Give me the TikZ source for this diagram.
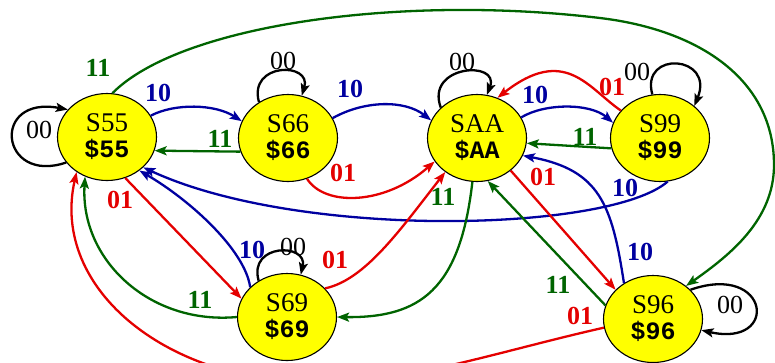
\documentclass[tikz,border=0pt]{standalone}
\usepackage{fontspec}
\setmainfont{Liberation Serif}
\newfontfamily\monofam{Liberation Mono}
\usetikzlibrary{shapes.geometric,arrows.meta}

\definecolor{cred}{RGB}{228,0,0}
\definecolor{cblue}{RGB}{0,0,160}
\definecolor{cgreen}{RGB}{0,100,0}
\definecolor{cyel}{RGB}{255,255,0}

\newcommand{\stname}[2]{#1\\{\monofam\bfseries\fontsize{25}{26}\selectfont #2}}

\tikzset{
  state/.style={ellipse, draw=black, line width=1.1pt, fill=cyel,
    minimum width=99pt, minimum height=87pt, inner sep=0pt, align=center,
    node font=\fontsize{27}{26}\selectfont},
  edge/.style={line width=2.3pt, -{Stealth[length=12pt,width=9pt,inset=2.5pt]}},
  lbl/.style={font=\fontsize{26}{26}\selectfont\bfseries, inner sep=0pt},
  selflbl/.style={font=\fontsize{26}{26}\selectfont, inner sep=0pt},
}

\begin{document}
\begin{tikzpicture}[x=1pt,y=-1pt]
\useasboundingbox (0,0) rectangle (775,362);

% states
\node[state] (s55) at (107,137) {\stname{S55}{\$55}};
\node[state] (s66) at (288,138) {\stname{S66}{\$66}};
\node[state] (saa) at (477,138) {\stname{SAA}{\$AA}};
\node[state] (s99) at (660,138) {\stname{S99}{\$99}};
\node[state] (s69) at (287,317) {\stname{S69}{\$69}};
\node[state] (s96) at (653,319) {\stname{S96}{\$96}};

% self loops (input 00)
\draw[edge] (s55.212) .. controls (0,185) and (-10,95) .. (s55.145);
\node[selflbl] (l55) at (39,130) {00};
\draw[edge] (s66.129) .. controls (248,62) and (312,62) .. (s66.72);
\node[selflbl] (l66) at (283,61) {00};
\draw[edge] (saa.140) .. controls (425,65) and (500,60) .. (saa.77);
\node[selflbl] (laa) at (462,62) {00};
\draw[edge] (s99.100) .. controls (640,50) and (715,55) .. (s99.43);
\node[selflbl] (l99) at (637,72) {00};
\draw[edge] (s69.128) .. controls (248,243) and (308,243) .. (s69.72);
\node[selflbl] (l69) at (293,247) {00};
\draw[edge] (s96.38) .. controls (770,262) and (780,348) .. (s96.347);
\node[selflbl] (l96) at (730,305) {00};

% input 10
\draw[edge,cblue] (s55.26) .. controls (175,103) and (215,104) .. (s66.160);
\node[lbl,text=cblue] at (158,93) {10};
\draw[edge,cblue] (s66.24) .. controls (365,100) and (405,100) .. (saa.159);
\node[lbl,text=cblue] at (350,89) {10};
\draw[edge,cblue] (saa.25) .. controls (545,103) and (590,103) .. (s99.162);
\node[lbl,text=cblue] at (535,95) {10};
\draw[edge,cblue] (s99.280) .. controls (610,232) and (300,240) .. (s55.320);
\node[lbl,text=cblue] at (625,188) {10};
\draw[edge,cblue] (s69.141) .. controls (245,250) and (190,200) .. (s55.314);
\node[lbl,text=cblue] at (252,250) {10};
\draw[edge,cblue] (s96.129) .. controls (612,205) and (600,170) .. (saa.339);
\node[lbl,text=cblue] at (640,252) {10};

% input 11
\draw[edge,cgreen] (s66.196) -- (s55.344);
\node[lbl,text=cgreen] at (220,139) {11};
\draw[edge,cgreen] (s99.192) -- (saa.354);
\node[lbl,text=cgreen] at (585,137) {11};
\draw[edge,cgreen] (s96.164) -- (saa.284);
\node[lbl,text=cgreen] at (558,285) {11};
\draw[edge,cgreen] (s69.180) .. controls (150,325) and (80,260) .. (s55.241);
\node[lbl,text=cgreen] at (200,300) {11};
\draw[edge,cgreen] (saa.264) .. controls (460,290) and (420,318) .. (s69.0);
\node[lbl,text=cgreen] at (443,197) {11};
\draw[edge,cgreen] (s55.83) .. controls (180,25) and (400,-6) .. (600,18)
  .. controls (700,30) and (774,80) .. (774,165)
  .. controls (774,220) and (730,255) .. (s96.45);
\node[lbl,text=cgreen] at (98,68) {11};

% input 01
\draw[edge,cred] (s55.294) -- (s69.158);
\node[lbl,text=cred] at (120,200) {01};
\draw[edge,cred] (saa.316) -- (s96.142);
\node[lbl,text=cred] at (543,177) {01};
\draw[edge,cred] (s66.295) .. controls (325,207) and (385,205) .. (saa.209);
\node[lbl,text=cred] at (343,173) {01};
\draw[edge,cred] (s69.37) .. controls (365,280) and (400,230) .. (saa.227);
\node[lbl,text=cred] at (335,260) {01};
\draw[edge,cred] (s99.145) .. controls (588,88) and (565,45) .. (saa.63);
\node[lbl,text=cred] at (612,87) {01};
\draw[edge,cred] (s96.190) .. controls (500,351) and (400,385) .. (320,382)
  .. controls (170,385) and (50,290) .. (s55.229);
\node[lbl,text=cred] at (580,316) {01};
\end{tikzpicture}
\end{document}
